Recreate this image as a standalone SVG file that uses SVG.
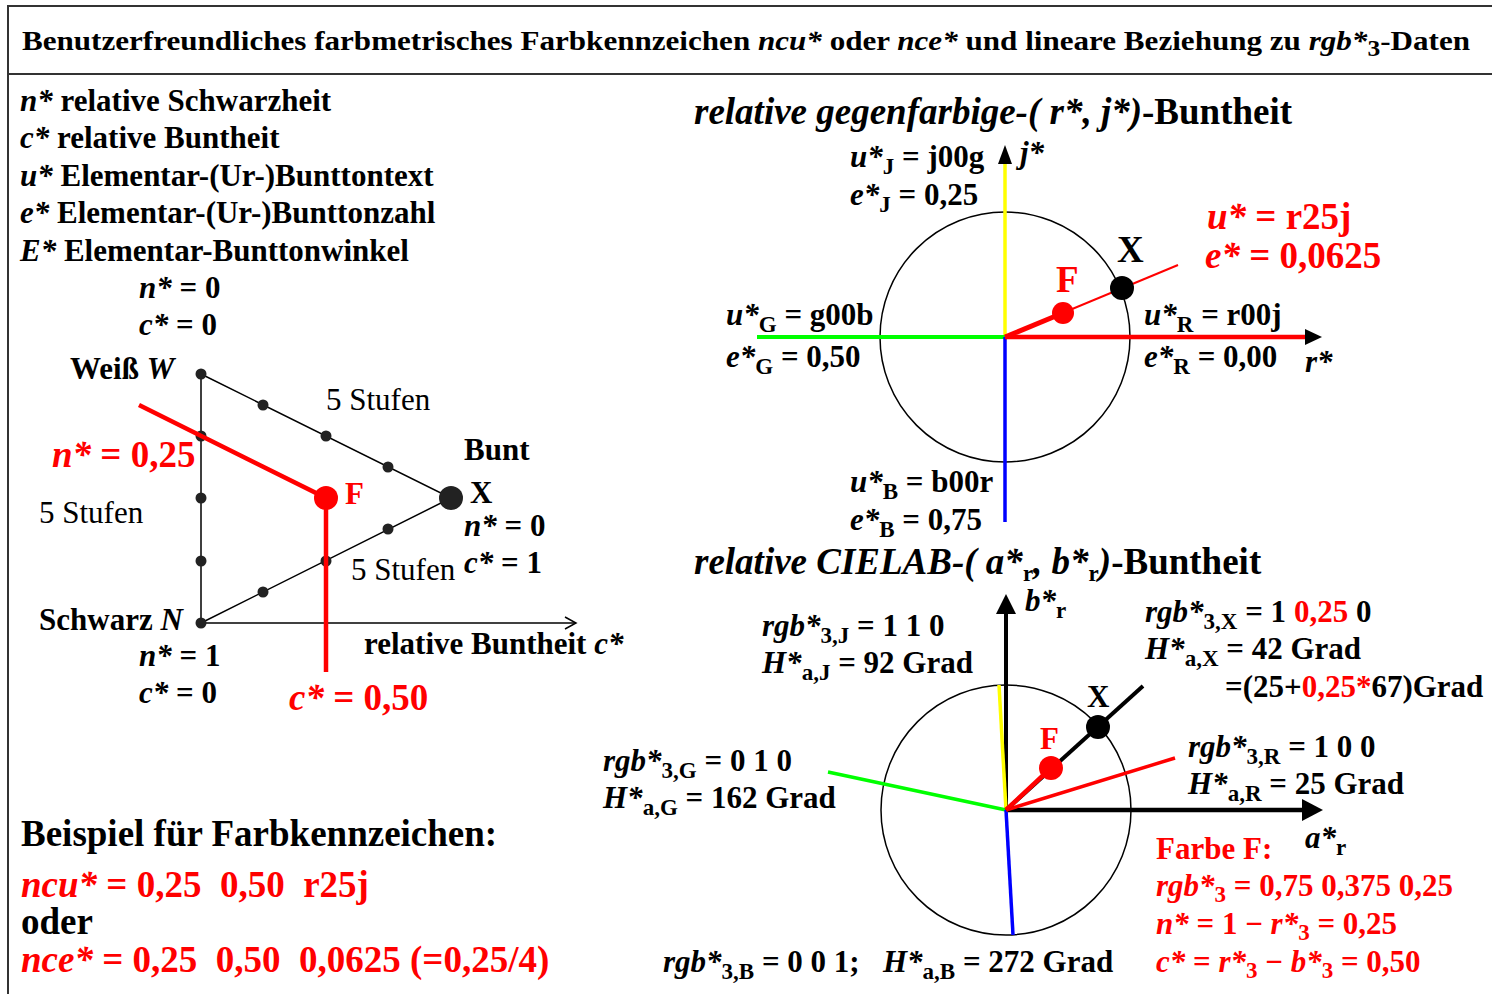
<svg xmlns="http://www.w3.org/2000/svg" width="1492" height="994" viewBox="0 0 1492 994">
<style>
text{font-family:"Liberation Serif","Times New Roman",serif;font-weight:bold;font-size:31px;fill:#000}
.i{font-style:italic}
.r{fill:#f00}
.k{fill:#000}
.s{font-size:23px}
.n{font-weight:normal}
.big{font-size:37px}
.frame{fill:none;stroke:#333;stroke-width:2}
.thin{stroke:#000;stroke-width:1.5;fill:none}
</style>
<defs>
<marker id="open" markerWidth="14" markerHeight="14" refX="12" refY="7" orient="auto" markerUnits="userSpaceOnUse">
<path d="M1,1 L12,7 L1,13" fill="none" stroke="#000" stroke-width="1.5"/>
</marker>
</defs>
<g id="frame">
<path class="frame" d="M1492,6 H8 V994"/>
<path class="frame" d="M8,74 H1492"/>
<text x="22" y="50" style="font-size:28px" textLength="1448" lengthAdjust="spacingAndGlyphs">Benutzerfreundliches farbmetrisches Farbkennzeichen <tspan class="i">ncu*</tspan> oder <tspan class="i">nce*</tspan> und lineare Beziehung zu <tspan class="i">rgb*</tspan><tspan class="s" dy="6">3</tspan><tspan dy="-6">-Daten</tspan></text>
</g>
<g id="legend">
<text x="20" y="111"><tspan class="i">n*</tspan> relative Schwarzheit</text>
<text x="20" y="148"><tspan class="i">c*</tspan> relative Buntheit</text>
<text x="20" y="186"><tspan class="i">u*</tspan> Elementar-(Ur-)Bunttontext</text>
<text x="20" y="223"><tspan class="i">e*</tspan> Elementar-(Ur-)Bunttonzahl</text>
<text x="20" y="261"><tspan class="i">E*</tspan> Elementar-Bunttonwinkel</text>
</g>
<g id="triangle">
<path class="thin" d="M201,374 V623 M201,374 L451,498 L201,623"/>
<path class="thin" d="M201,623 H576" marker-end="url(#open)"/>
<g fill="#222">
<circle cx="201" cy="374" r="5.5"/><circle cx="201" cy="436" r="5.5"/><circle cx="201" cy="498" r="5.5"/><circle cx="201" cy="561" r="5.5"/><circle cx="201" cy="623" r="5.5"/>
<circle cx="263" cy="405" r="5.5"/><circle cx="326" cy="436" r="5.5"/><circle cx="388" cy="467" r="5.5"/>
<circle cx="263" cy="592" r="5.5"/><circle cx="326" cy="561" r="5.5"/><circle cx="388" cy="529" r="5.5"/>
<circle cx="451" cy="498" r="12"/>
</g>
<path d="M139,405 L326,498 V672" fill="none" stroke="#f00" stroke-width="4.5"/>
<circle cx="326" cy="498" r="12" fill="#f00"/>
<text x="139" y="298"><tspan class="i">n*</tspan> = 0</text>
<text x="139" y="335"><tspan class="i">c*</tspan> = 0</text>
<text x="70" y="379">Weiß <tspan class="i">W</tspan></text>
<text x="326" y="410" class="n">5 Stufen</text>
<text x="464" y="460">Bunt</text>
<text x="470" y="503">X</text>
<text x="464" y="536"><tspan class="i">n*</tspan> = 0</text>
<text x="464" y="573"><tspan class="i">c*</tspan> = 1</text>
<text x="351" y="580" class="n">5 Stufen</text>
<text x="39" y="523" class="n">5 Stufen</text>
<text x="52" y="467" class="r big"><tspan class="i">n*</tspan> = 0,25</text>
<text x="345" y="504" class="r">F</text>
<text x="39" y="630">Schwarz <tspan class="i">N</tspan></text>
<text x="139" y="666"><tspan class="i">n*</tspan> = 1</text>
<text x="139" y="703"><tspan class="i">c*</tspan> = 0</text>
<text x="364" y="654">relative Buntheit <tspan class="i">c*</tspan></text>
<text x="289" y="710" class="r big"><tspan class="i">c*</tspan> = 0,50</text>
</g>
<g id="example">
<text x="21" y="846" class="big">Beispiel für Farbkennzeichen:</text>
<text x="21" y="897" class="r big" xml:space="preserve"><tspan class="i">ncu*</tspan> = 0,25  0,50  r25j</text>
<text x="21" y="934" class="big">oder</text>
<text x="21" y="972" class="r big" xml:space="preserve"><tspan class="i">nce*</tspan> = 0,25  0,50  0,0625 (=0,25/4)</text>
</g>
<g id="opponent">
<text x="694" y="124" class="big"><tspan class="i">relative gegenfarbige-( r*, j*)</tspan>-Buntheit</text>
<circle cx="1005" cy="337" r="125" class="thin" stroke-width="2"/>
<path d="M1005,337 V162" stroke="#ff0" stroke-width="3.5"/>
<path d="M998,164 L1005,145 L1012,164 Z" fill="#000"/>
<path d="M757,337 H1005" stroke="#0f0" stroke-width="4"/>
<path d="M1005,337 V522" stroke="#00f" stroke-width="3.5"/>
<path d="M1005,337 H1306" stroke="#f00" stroke-width="4.5"/>
<path d="M1305,329 L1322,337 L1305,345 Z" fill="#000"/>
<path d="M1005,337 L1178,265" stroke="#f00" stroke-width="2"/>
<path d="M1005,337 L1063,313" stroke="#f00" stroke-width="5"/>
<circle cx="1063" cy="313" r="11" fill="#f00"/>
<circle cx="1122" cy="288" r="12" fill="#000"/>
<text x="850" y="167"><tspan class="i">u*</tspan><tspan class="s" dy="7">J</tspan><tspan dy="-7"> = j00g</tspan></text>
<text x="850" y="205"><tspan class="i">e*</tspan><tspan class="s" dy="7">J</tspan><tspan dy="-7"> = 0,25</tspan></text>
<text x="1020" y="163" class="i">j*</text>
<text x="1207" y="229" class="r big"><tspan class="i">u*</tspan> = r25j</text>
<text x="1205" y="268" class="r big"><tspan class="i">e*</tspan> = 0,0625</text>
<text x="1117" y="262" class="big">X</text>
<text x="1056" y="292" class="r big">F</text>
<text x="726" y="325"><tspan class="i">u*</tspan><tspan class="s" dy="7">G</tspan><tspan dy="-7"> = g00b</tspan></text>
<text x="726" y="367"><tspan class="i">e*</tspan><tspan class="s" dy="7">G</tspan><tspan dy="-7"> = 0,50</tspan></text>
<text x="1144" y="325"><tspan class="i">u*</tspan><tspan class="s" dy="7">R</tspan><tspan dy="-7"> = r00j</tspan></text>
<text x="1144" y="367"><tspan class="i">e*</tspan><tspan class="s" dy="7">R</tspan><tspan dy="-7"> = 0,00</tspan></text>
<text x="1305" y="372" class="i">r*</text>
<text x="850" y="492"><tspan class="i">u*</tspan><tspan class="s" dy="7">B</tspan><tspan dy="-7"> = b00r</tspan></text>
<text x="850" y="530"><tspan class="i">e*</tspan><tspan class="s" dy="7">B</tspan><tspan dy="-7"> = 0,75</tspan></text>
</g>
<g id="cielab">
<text x="694" y="574" class="big"><tspan class="i">relative CIELAB-( a*</tspan><tspan class="s" dy="7">r</tspan><tspan class="i" dy="-7">, b*</tspan><tspan class="s" dy="7">r</tspan><tspan class="i" dy="-7">)</tspan>-Buntheit</text>
<circle cx="1006" cy="810" r="125" class="thin" stroke-width="2"/>
<path d="M1006,810 V612" stroke="#000" stroke-width="4"/>
<path d="M996,614 L1006,594 L1016,614 Z" fill="#000"/>
<path d="M1006,810 H1304" stroke="#000" stroke-width="4.5"/>
<path d="M1302,799 L1323,810 L1302,821 Z" fill="#000"/>
<path d="M1006,810 L999,685" stroke="#ff0" stroke-width="3.5"/>
<path d="M1006,810 L828,772" stroke="#0f0" stroke-width="3.5"/>
<path d="M1006,810 L1013,935" stroke="#00f" stroke-width="3.5"/>
<path d="M1006,810 L1175,758" stroke="#f00" stroke-width="3.5"/>
<path d="M1006,810 L1143,686" stroke="#000" stroke-width="4"/>
<path d="M1006,810 L1051,768" stroke="#f00" stroke-width="4.5"/>
<circle cx="1051" cy="768" r="12" fill="#f00"/>
<circle cx="1098" cy="727" r="12" fill="#000"/>
<text x="1025" y="611"><tspan class="i">b*</tspan><tspan class="s" dy="7">r</tspan></text>
<text x="762" y="636"><tspan class="i">rgb*</tspan><tspan class="s" dy="7">3,J</tspan><tspan dy="-7"> = 1 1 0</tspan></text>
<text x="762" y="673"><tspan class="i">H*</tspan><tspan class="s" dy="7">a,J</tspan><tspan dy="-7"> = 92 Grad</tspan></text>
<text x="1145" y="622"><tspan class="i">rgb*</tspan><tspan class="s" dy="7">3,X</tspan><tspan dy="-7"> = 1 </tspan><tspan class="r">0,25</tspan> 0</text>
<text x="1145" y="659"><tspan class="i">H*</tspan><tspan class="s" dy="7">a,X</tspan><tspan dy="-7"> = 42 Grad</tspan></text>
<text x="1225" y="697">=(25+<tspan class="r">0,25*</tspan>67)Grad</text>
<text x="1087" y="707">X</text>
<text x="1040" y="749" class="r">F</text>
<text x="1188" y="757"><tspan class="i">rgb*</tspan><tspan class="s" dy="7">3,R</tspan><tspan dy="-7"> = 1 0 0</tspan></text>
<text x="1188" y="794"><tspan class="i">H*</tspan><tspan class="s" dy="7">a,R</tspan><tspan dy="-7"> = 25 Grad</tspan></text>
<text x="603" y="771"><tspan class="i">rgb*</tspan><tspan class="s" dy="7">3,G</tspan><tspan dy="-7"> = 0 1 0</tspan></text>
<text x="603" y="808"><tspan class="i">H*</tspan><tspan class="s" dy="7">a,G</tspan><tspan dy="-7"> = 162 Grad</tspan></text>
<text x="1305" y="848"><tspan class="i">a*</tspan><tspan class="s" dy="7">r</tspan></text>
<text x="1156" y="859" class="r">Farbe F:</text>
<text x="1156" y="896" class="r"><tspan class="i">rgb*</tspan><tspan class="s" dy="6">3</tspan><tspan dy="-6"> = 0,75 0,375 0,25</tspan></text>
<text x="1156" y="934" class="r"><tspan class="i">n*</tspan> = 1 − <tspan class="i">r*</tspan><tspan class="s" dy="6">3</tspan><tspan dy="-6"> = 0,25</tspan></text>
<text x="1156" y="972" class="r"><tspan class="i">c*</tspan> = <tspan class="i">r*</tspan><tspan class="s" dy="6">3</tspan><tspan dy="-6"> − </tspan><tspan class="i">b*</tspan><tspan class="s" dy="6">3</tspan><tspan dy="-6"> = 0,50</tspan></text>
<text x="663" y="972" xml:space="preserve"><tspan class="i">rgb*</tspan><tspan class="s" dy="7">3,B</tspan><tspan dy="-7"> = 0 0 1;   </tspan><tspan class="i">H*</tspan><tspan class="s" dy="7">a,B</tspan><tspan dy="-7"> = 272 Grad</tspan></text>
</g>
</svg>
